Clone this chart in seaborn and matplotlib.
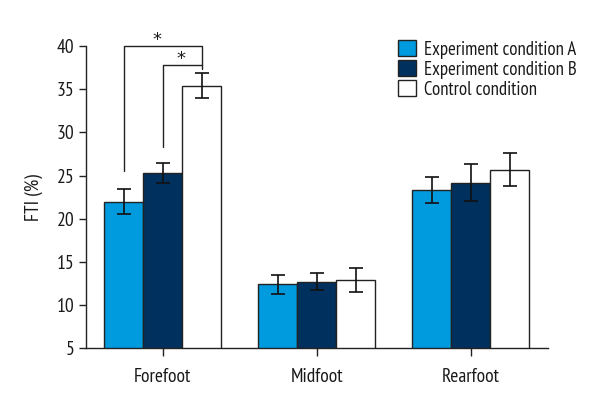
import matplotlib
matplotlib.use("Agg")
import matplotlib.pyplot as plt
import seaborn as sns
import pandas as pd

regions = ["Forefoot", "Midfoot", "Rearfoot"]
conditions = ["Experiment condition A", "Experiment condition B", "Control condition"]
cond_a = [22.0, 12.4, 23.3]
cond_b = [25.3, 12.7, 24.2]
control = [35.4, 12.9, 25.7]
err_a = [1.5, 1.1, 1.5]
err_b = [1.2, 1.0, 2.1]
err_c = [1.45, 1.4, 1.9]
yticks = [5, 10, 15, 20, 25, 30, 35, 40]

sns.set_theme(style="ticks")
plt.rcParams['font.family'] = ['PT Sans Narrow', 'DejaVu Sans']

rows = []
for vals, errs, c in zip([cond_a, cond_b, control], [err_a, err_b, err_c], conditions):
    for r, v, e in zip(regions, vals, errs):
        rows.append({"region": r, "condition": c, "value": v, "err": e})
df = pd.DataFrame(rows)

colors = ["#009ade", "#00305e", "#ffffff"]
fig = plt.figure(figsize=(6, 4.2), dpi=100)
ax = fig.add_axes([0.143, 0.171, 0.77, 0.719])
sns.barplot(data=df, x="region", y="value", hue="condition", order=regions,
            hue_order=conditions, palette=colors, errorbar=None, width=0.76,
            edgecolor="#222222", linewidth=1.0, ax=ax, saturation=1)

for cont, c in zip(ax.containers, conditions):
    sub = df[df.condition == c].set_index("region").loc[regions]
    xs = [p.get_x() + p.get_width() / 2 for p in cont.patches]
    ax.errorbar(xs, sub["value"].values, yerr=sub["err"].values, fmt="none",
                ecolor="#111111", elinewidth=1.2, capsize=5, capthick=1.2, zorder=5)

ax.set_xlim(-0.5, 2.5)
ax.set_ylim(5, 40)
ax.set_yticks(yticks)
ax.set_xlabel("")
ax.set_ylabel("FTI (%)", fontsize=14, labelpad=10, color="#1a1a1a")
ax.tick_params(axis="both", labelsize=14, direction="out", length=5, width=1, color="#222222",
               labelcolor="#1a1a1a")
ax.tick_params(axis="x", pad=8, length=6)
ax.tick_params(axis="y", pad=3)
for s in ["top", "right"]:
    ax.spines[s].set_visible(False)
for s in ["left", "bottom"]:
    ax.spines[s].set_linewidth(1.0)
    ax.spines[s].set_color("#222222")

pa = ax.containers[0].patches[0]
pb = ax.containers[1].patches[0]
pc = ax.containers[2].patches[0]
xa = pa.get_x() + pa.get_width() / 2
xb = pb.get_x() + pb.get_width() / 2
xc = pc.get_x() + pc.get_width() / 2
lw = 1.0
ax.plot([xa, xa, xc, xc], [25.5, 40, 40, 37.3], color="#222222", lw=lw, clip_on=False)
ax.plot([xb, xb, xc], [28.3, 37.8, 37.8], color="#222222", lw=lw, clip_on=False)
ax.text((xa + xc) / 2 - 0.04, 39.7, "*", ha="center", va="bottom", fontsize=13,
        family="DejaVu Sans", color="#1a1a1a", clip_on=False)
ax.text((xb + xc) / 2 - 0.01, 37.5, "*", ha="center", va="bottom", fontsize=13,
        family="DejaVu Sans", color="#1a1a1a", clip_on=False)

leg = ax.legend(loc="upper left", bbox_to_anchor=(0.66, 1.045), frameon=False, fontsize=13.5,
                handlelength=0.95, handleheight=0.95, handletextpad=0.4, labelspacing=0.08,
                borderaxespad=0.0)
for t in leg.get_texts():
    t.set_color("#1a1a1a")

fig.savefig("out.png", dpi=100)
